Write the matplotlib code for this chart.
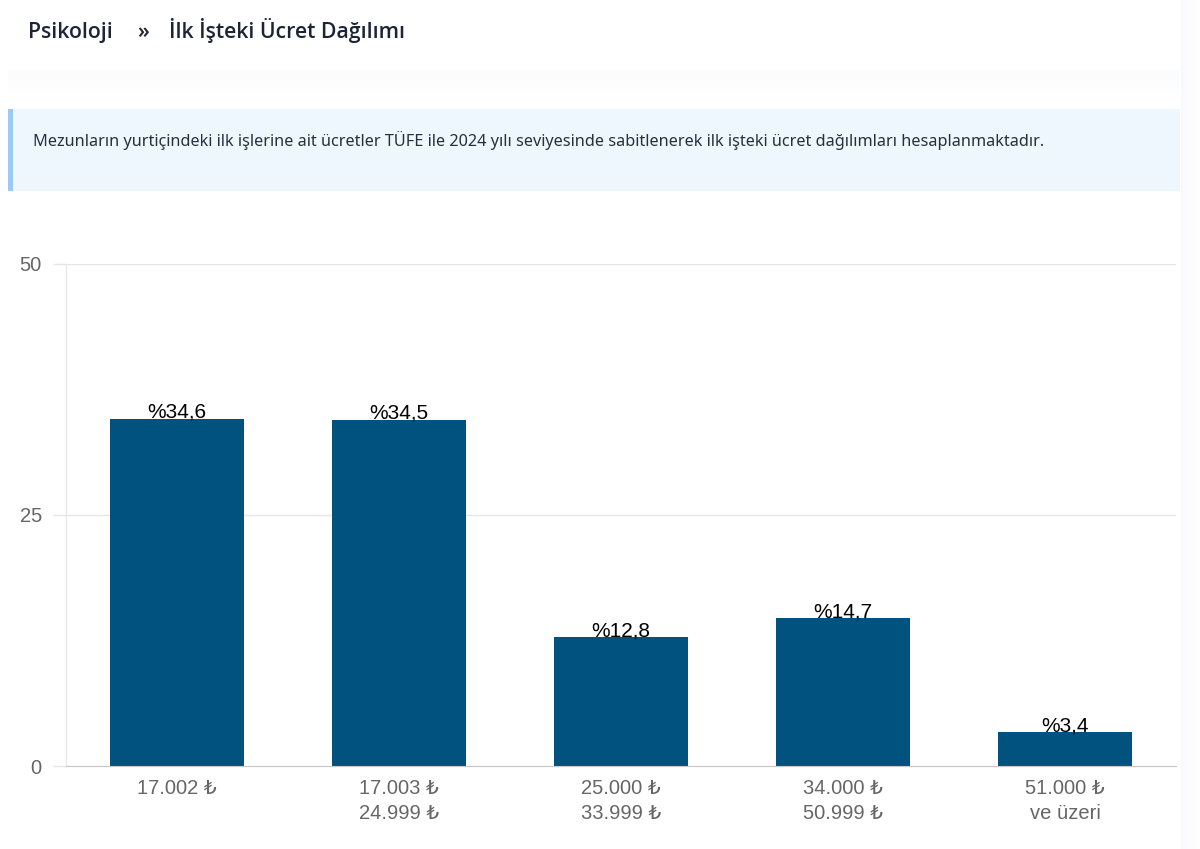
import matplotlib
matplotlib.use("Agg")
import matplotlib.pyplot as plt
from matplotlib.patches import Rectangle
import numpy as np

categories = ["17.002 ₺", "17.003 ₺\n24.999 ₺", "25.000 ₺\n33.999 ₺", "34.000 ₺\n50.999 ₺", "51.000 ₺\nve üzeri"]
values = [34.6, 34.5, 12.8, 14.7, 3.4]
value_labels = ["%34,6", "%34,5", "%12,8", "%14,7", "%3,4"]
yticks = [0, 25, 50]

W, H = 1200, 849
fig = plt.figure(figsize=(W / 100, H / 100), dpi=100)
fig.patch.set_facecolor("white")

def px(x, y):
    return x / W, 1 - y / H

def rect(x0, y0, x1, y1, color, alpha=1.0, z=0):
    fx0, fy1 = px(x0, y0)
    fx1, fy0 = px(x1, y1)
    fig.patches.append(Rectangle((fx0, fy0), fx1 - fx0, fy1 - fy0, transform=fig.transFigure,
                                 facecolor=color, edgecolor="none", alpha=alpha, zorder=z))

# shadows (soft)
for i in range(30):
    a = 0.06 * (1 - i / 30)
    rect(8, 70 + i, 1180, 71 + i, "#c8cde6", a, z=0)
for i in range(20):
    a = 0.10 * (1 - i / 20)
    rect(1181 + i, 0, 1182 + i, H, "#c8cde6", a, z=0)

# header card
rect(8, 0, 1180, 70, "white", 1, z=1)
hfont = ["Open Sans", "Noto Sans", "DejaVu Sans"]
hsize = 15.3
base_y = 38
fig.text(*px(28, base_y), "Psikoloji", fontsize=hsize, fontweight="semibold", color="#1c2536",
         family=hfont, va="baseline", ha="left")
fig.text(*px(137, base_y), "»", fontsize=hsize, fontweight="semibold", color="#1c2536",
         family=hfont, va="baseline", ha="left")
fig.text(*px(169, base_y), "İlk İşteki Ücret Dağılımı", fontsize=hsize, fontweight="semibold",
         color="#1c2536", family=hfont, va="baseline", ha="left")

# info box
rect(8, 109, 1180, 191, "#eef6fe", 1, z=1)
rect(8, 109, 13, 191, "#9ccaf5", 1, z=2)
fig.text(*px(33, 140), "Mezunların yurtiçindeki ilk işlerine ait ücretler TÜFE ile 2024 yılı seviyesinde "
         "sabitlenerek ilk işteki ücret dağılımları hesaplanmaktadır.",
         fontsize=11.7, color="#27303d", family=["Noto Sans", "DejaVu Sans"], va="center", ha="left")

# chart axes
x0, x1 = 66, 1176
ytop, ybot = 264, 766
l, b = px(x0, ybot)
r, t = px(x1, ytop)
ax = fig.add_axes([l, b, r - l, t - b])
ax.set_facecolor("none")
xs = np.arange(len(values))
ax.bar(xs, values, width=0.6, color="#01527f", zorder=3)
ax.set_xlim(-0.5, len(values) - 0.5)
ax.set_ylim(0, 50)

lab_font = ["Liberation Sans", "DejaVu Sans"]
for xi, v, s in zip(xs, values, value_labels):
    ax.annotate(s, (xi, v), xytext=(0, 0.5), textcoords="offset points", ha="center",
                va="baseline", fontsize=15, color="black", family=lab_font, zorder=4)

ax.set_yticks(yticks)
ax.set_yticklabels([str(y) for y in yticks], fontsize=14.5, color="#666666", family=lab_font)
ax.set_xticks(xs)
ax.set_xticklabels(categories, fontsize=14.5, color="#666666", family=lab_font, linespacing=1.42)
ax.tick_params(axis="y", length=9.4, color="#e6e6e6", pad=8, width=1)
ax.tick_params(axis="x", length=0, pad=9)
ax.grid(axis="y", color="#e6e6e6", linewidth=1, zorder=0)
for sp in ["top", "right"]:
    ax.spines[sp].set_visible(False)
ax.spines["left"].set_color("#e6e6e6")
ax.spines["bottom"].set_color("#c8c8c8")
ax.spines["bottom"].set_zorder(5)
ax.get_yticklines()[0].set_color("#c8c8c8")

fig.savefig("out.png", dpi=100, facecolor=fig.get_facecolor())
